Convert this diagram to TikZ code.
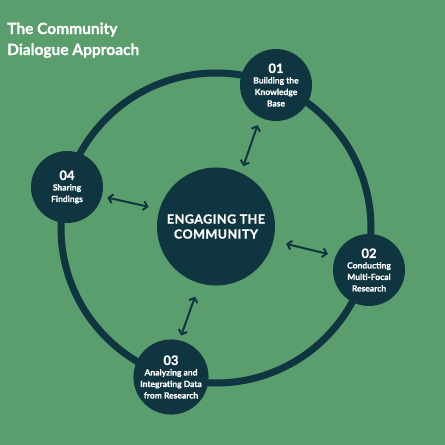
\documentclass[tikz,border=0pt]{standalone}
\usepackage{fontspec}
\setmainfont{Lato}[BoldFeatures={FakeBold=0.8}]
\usetikzlibrary{arrows.meta}
\definecolor{bggreen}{HTML}{5A9E6E}
\definecolor{darkteal}{HTML}{0F3540}
\tikzset{
  stage/.style={circle,fill=darkteal,minimum size=72pt,inner sep=0pt,text=white,align=center,font=\bfseries\fontsize{8.5}{11.5}\selectfont},
  hub/.style={circle,fill=darkteal,minimum size=118pt,inner sep=0pt,text=white,align=center,font=\bfseries\fontsize{12.5}{15}\selectfont},
  link/.style={draw=darkteal,line width=2pt,{Straight Barb[length=4pt,width=9pt]}-{Straight Barb[length=4pt,width=9pt]}},
  ring/.style={draw=darkteal,line width=7pt},
  titletext/.style={anchor=base west,text=white,font=\bfseries\fontsize{15.5}{15.5}\selectfont,inner sep=0pt}
}
\newcommand{\stnum}[1]{{\fontsize{13}{13}\selectfont #1}\\[-1pt]}
\begin{document}
\begin{tikzpicture}[x=1pt,y=-1pt]
\fill[bggreen] (0,0) rectangle (445,445);
\useasboundingbox (0,0) rectangle (445,445);
\node[titletext] (t1) at (7,34) {The Community};
\node[titletext] (t2) at (7,55) {Dialogue Approach};
\coordinate (rc) at (216,228);
\draw[ring] (rc) circle[radius=155];
\node[hub] (c) at (216,226.5) {\addfontfeature{LetterSpace=4}ENGAGING THE\\\addfontfeature{LetterSpace=4}COMMUNITY};
\node[stage] (n1) at (276,85) {\stnum{01}Building the\\Knowledge\\Base};
\node[stage] (n2) at (369,270) {\stnum{02}Conducting\\Multi-Focal\\Research};
\node[stage] (n3) at (171,377) {\stnum{03}Analyzing and\\Integrating Data\\from Research};
\node[stage] (n4) at (67,187) {\stnum{04}Sharing\\Findings};
\draw[link,shorten <=7pt,shorten >=8pt] (c.65.9) -- (n1.244.6);
\draw[link,shorten <=13pt,shorten >=8pt] (c.-14) -- (n2.157.5);
\draw[link,shorten <=14pt,shorten >=5pt] (c.254.2) -- (n3.77.3);
\draw[link,shorten <=11pt,shorten >=5.5pt] (c.163.8) -- (n4.-15.4);
\end{tikzpicture}
\end{document}
